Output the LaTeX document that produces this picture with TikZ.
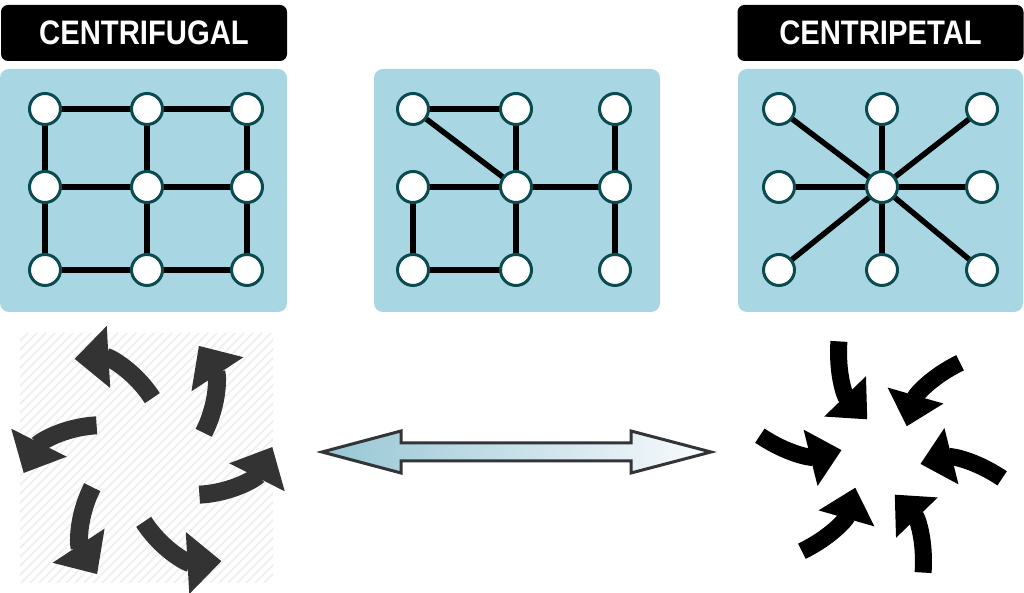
\documentclass[tikz,border=0pt]{standalone}
\usepackage{fontspec}
\usepackage{graphicx}
\newfontfamily\lblfont{Liberation Sans}
\usetikzlibrary{arrows.meta}
\definecolor{panelblue}{RGB}{169,214,227}
\definecolor{nodeteal}{RGB}{10,75,80}
\definecolor{arrowgrey}{RGB}{51,51,51}
\definecolor{hatchgrey}{RGB}{240,240,240}
\definecolor{dblleft}{RGB}{150,198,212}
\definecolor{dblright}{RGB}{250,251,253}
\definecolor{dbledge}{RGB}{50,52,56}
\pgfdeclarelayer{bgzero}
\pgfdeclarelayer{bgone}
\pgfsetlayers{bgzero,bgone,main}
\begin{document}
\begin{tikzpicture}[x=1pt,y=1pt,
 labelbox/.style={fill=black, rounded corners=7pt, minimum width=286pt, minimum height=56pt, inner sep=0pt,
   text=white, font=\lblfont\bfseries\fontsize{34}{40}\selectfont},
 panel/.style={fill=panelblue, rounded corners=9pt},
 vertex/.style={circle, draw=nodeteal, fill=white, line width=3pt, minimum size=31pt, inner sep=0pt},
 edge/.style={line width=5.5pt, black},
 hatch/.style={hatchgrey, line width=2pt},
 swirlout/.style={line width=18pt, arrowgrey, -{Triangle[width=60pt,length=34pt]}},
 swirlin/.style={line width=17pt, black, -{Triangle[width=56pt,length=32pt]}},
 dblarrow/.style={left color=dblleft, right color=dblright, draw=dbledge, line width=3pt, line join=miter},
]
\useasboundingbox (0,0) rectangle (1024,593);

% label boxes
\node[labelbox] (lbl1) at (144,560) {\scalebox{0.86}[1]{CENTRIFUGAL}};
\node[labelbox] (lbl3) at (880.5,560) {\scalebox{0.86}[1]{CENTRIPETAL}};

% panels
\begin{pgfonlayer}{bgzero}
\fill[panel] (0,281) rectangle (287,524);
\fill[panel] (374,281) rectangle (660,524);
\fill[panel] (738,281) rectangle (1023,524);
\end{pgfonlayer}

% panel 1 nodes (grid)
\foreach \c/\x in {1/45,2/147,3/247}{
  \foreach \r/\y in {1/484,2/406,3/323}{
    \node[vertex] (a\r\c) at (\x,\y) {};
  }
}
% panel 2 nodes
\foreach \c/\x in {1/413,2/516,3/615}{
  \foreach \r/\y in {1/484,2/406,3/323}{
    \node[vertex] (b\r\c) at (\x,\y) {};
  }
}
% panel 3 nodes
\foreach \c/\x in {1/779,2/882,3/982}{
  \foreach \r/\y in {1/484,2/406,3/323}{
    \node[vertex] (c\r\c) at (\x,\y) {};
  }
}

\begin{pgfonlayer}{bgone}
% panel 1 edges
\foreach \r in {1,2,3}{
  \draw[edge] (a\r1.center) -- (a\r2.center) -- (a\r3.center);
}
\foreach \c in {1,2,3}{
  \draw[edge] (a1\c.center) -- (a2\c.center) -- (a3\c.center);
}
% panel 2 edges
\draw[edge] (b11.center) -- (b12.center);
\draw[edge] (b11.center) -- (b22.center);
\draw[edge] (b12.center) -- (b22.center);
\draw[edge] (b21.center) -- (b22.center);
\draw[edge] (b22.center) -- (b23.center);
\draw[edge] (b21.center) -- (b31.center);
\draw[edge] (b31.center) -- (b32.center);
\draw[edge] (b22.center) -- (b32.center);
\draw[edge] (b13.center) -- (b23.center);
\draw[edge] (b23.center) -- (b33.center);
% panel 3 edges (star)
\foreach \n in {c11,c12,c13,c21,c23,c31,c32,c33}{
  \draw[edge] (c22.center) -- (\n.center);
}
\end{pgfonlayer}

% hatched background, bottom left
\begin{scope}
\clip (20,10) rectangle (273,260);
\foreach \k in {-240,-231,...,280}{
  \draw[hatch] (\k,10) -- ++(250,250);
}
\end{scope}

% centrifugal pinwheel
\coordinate (lc) at (148,133);
\foreach \i in {0,...,5}{
  \pgfmathsetmacro\ta{86-60*\i}
  \pgfmathsetmacro\tb{126-60*\i}
  \draw[swirlout] ([shift={(\ta:62)}]lc) to[bend right=30] ([shift={(\tb:125)}]lc);
}

% centripetal pinwheel
\coordinate (rc) at (881,136);
\foreach \i in {0,...,5}{
  \pgfmathsetmacro\pa{110-60*\i}
  \draw[swirlin] ([shift={(\pa:123)}]rc) to[bend right=24] ([shift={(\pa:40)}]rc);
}

% double arrow
\shadedraw[dblarrow] (322,141) -- (401,162) -- (401,150) -- (631,150) -- (631,162) -- (711,141)
  -- (631,120) -- (631,132) -- (401,132) -- (401,120) -- cycle;
\end{tikzpicture}
\end{document}
